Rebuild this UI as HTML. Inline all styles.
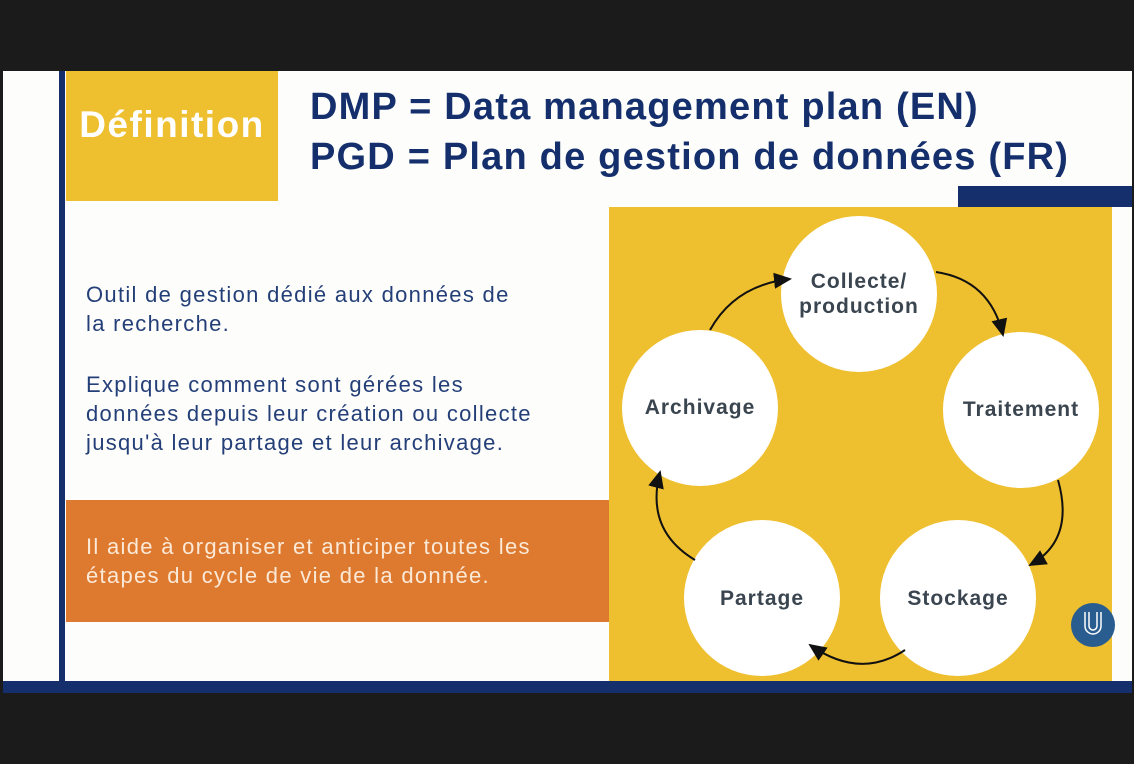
<!DOCTYPE html>
<html><head><meta charset="utf-8"><style>
body{margin:0;width:1134px;height:764px;background:#1b1b1b;position:relative;overflow:hidden;font-family:"Liberation Sans",sans-serif}
div{position:absolute}
.t{color:#243f78;font-size:22px;line-height:29px;letter-spacing:1.3px;white-space:nowrap}
</style></head><body>
<div style="left:3px;top:71px;width:1129px;height:611px;background:#fdfdfc"></div>
<div style="left:3px;top:681px;width:1129px;height:12px;background:#142f6c"></div>
<div style="left:59px;top:71px;width:6px;height:611px;background:#142f6c"></div>
<div style="left:66px;top:71px;width:212px;height:130px;background:#eebf2f"></div>
<div style="left:66px;top:104px;width:212px;text-align:center;color:#fff;font-weight:bold;font-size:37px;letter-spacing:1.5px">Définition</div>
<div style="left:310px;top:82px;color:#142f6c;font-weight:bold;font-size:38px;line-height:50px;white-space:nowrap;letter-spacing:1.2px">DMP = Data management plan (EN)<br>PGD = Plan de gestion de données (FR)</div>
<div style="left:958px;top:186px;width:174px;height:21px;background:#142f6c"></div>
<div style="left:609px;top:207px;width:503px;height:474px;background:#eebf2f"></div>
<div class="t" style="left:86px;top:280px">Outil de gestion dédié aux données de<br>la recherche.</div>
<div class="t" style="left:86px;top:370px">Explique comment sont gérées les<br>données depuis leur création ou collecte<br>jusqu'à leur partage et leur archivage.</div>
<div style="left:66px;top:500px;width:543px;height:122px;background:#de7a2f"></div>
<div class="t" style="left:86px;top:532px;color:#fbe9d8">Il aide à organiser et anticiper toutes les<br>étapes du cycle de vie de la donnée.</div>
<svg style="position:absolute;left:0;top:0" width="1134" height="764">
<defs><marker id="a" markerWidth="10" markerHeight="10" refX="8" refY="5" orient="auto"><path d="M0,1 L9,5 L0,9 Z" fill="#111"/></marker></defs>
<g fill="#fff">
<circle cx="859" cy="294" r="78"/><circle cx="1021" cy="410" r="78"/><circle cx="958" cy="598" r="78"/><circle cx="762" cy="598" r="78"/><circle cx="700" cy="408" r="78"/>
</g>
<g fill="none" stroke="#111" stroke-width="2" marker-end="url(#a)">
<path d="M936,272 Q990,280 1003,335"/>
<path d="M1058,480 Q1075,540 1030,565"/>
<path d="M905,650 Q860,680 810,645"/>
<path d="M695,560 Q645,530 660,472"/>
<path d="M710,330 Q735,285 790,279"/>
</g>
<g fill="#3a4550" font-weight="bold" font-size="21" letter-spacing="1" text-anchor="middle" font-family="Liberation Sans,sans-serif">
<text x="859" y="288">Collecte/</text><text x="859" y="313">production</text>
<text x="1021" y="416">Traitement</text><text x="958" y="605">Stockage</text>
<text x="762" y="605">Partage</text><text x="700" y="414">Archivage</text>
</g>
<circle cx="1093" cy="625" r="22" fill="#2a5d8f"/>
<path d="M1085,612 v14 a8,8 0 0 0 16,0 v-14 M1089,612 v14 a4,4 0 0 0 8,0 v-14" fill="none" stroke="#fff" stroke-width="1.5"/>
</svg>
</body></html>
